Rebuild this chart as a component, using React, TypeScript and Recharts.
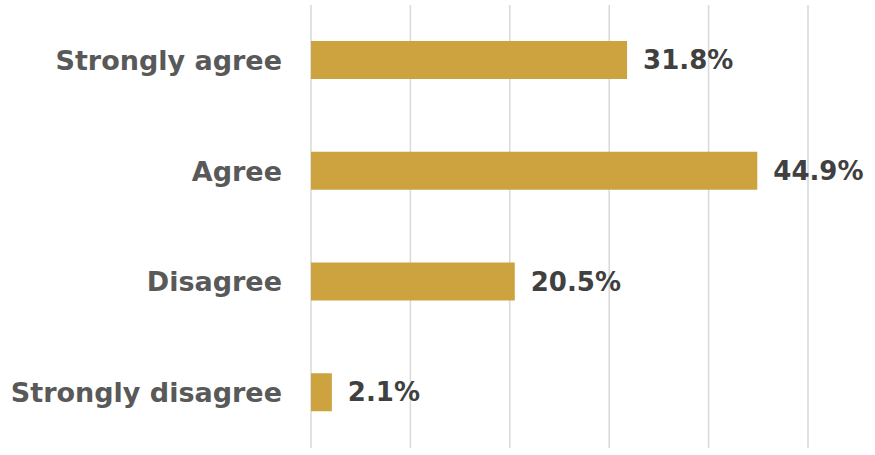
import { BarChart, Bar, XAxis, YAxis, CartesianGrid, LabelList } from 'recharts';

const categories = ['Strongly agree', 'Agree', 'Disagree', 'Strongly disagree'];
const shares = [31.8, 44.9, 20.5, 2.1];
const xTicks = [0, 10, 20, 30, 40, 50];

const data = categories.map((name, i) => ({ name, value: shares[i] }));

const FONT = '"DejaVu Sans", sans-serif';

export default function App() {
  return (
    <div style={{ position: 'absolute', left: 0, top: 0, background: '#fff' }}>
      <BarChart
        width={875}
        height={455}
        data={data}
        layout="vertical"
        margin={{ top: 5, right: 67, bottom: 7, left: 0 }}
      >
        <CartesianGrid horizontal={false} stroke="#d9d9d9" strokeWidth={1.5} />
        <XAxis type="number" domain={[0, 50]} ticks={xTicks} hide />
        <YAxis
          type="category"
          dataKey="name"
          width={311}
          axisLine={false}
          tickLine={false}
          tickSize={0}
          tickMargin={29}
          tick={{ fill: '#595959', fontSize: 27, fontWeight: 700, fontFamily: FONT }}
        />
        <Bar dataKey="value" fill="#cca33f" barSize={38} isAnimationActive={false}>
          <LabelList
            dataKey="value"
            position="right"
            offset={16}
            formatter={(v: any) => `${Number(v).toFixed(1)}%`}
            style={{ fill: '#404040', fontSize: 26, fontWeight: 700, fontFamily: FONT }}
          />
        </Bar>
      </BarChart>
    </div>
  );
}
